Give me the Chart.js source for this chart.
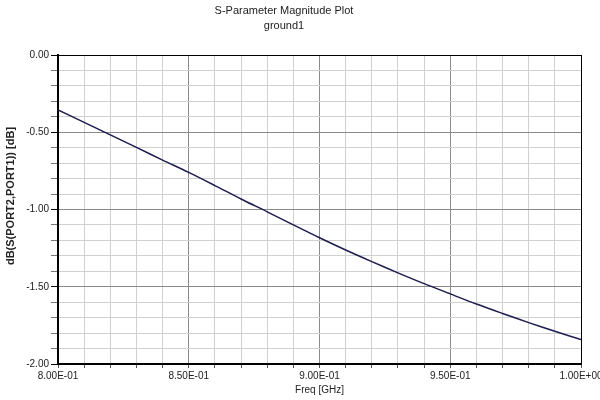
<!DOCTYPE html>
<html lang="en">
<head>
  <meta charset="UTF-8">
  <title>S-Parameter Magnitude Plot</title>
  <style>
    body {
      margin: 0;
      padding: 0;
      background-color: #fff;
    }

    .container {
      width: 600px;
      height: 400px;
    }
  </style>
</head>
<body>
  <div class="container">
    <canvas id="myChart" width="600" height="400"></canvas>
  </div>

  <script src="https://cdn.jsdelivr.net/npm/chart.js@4/dist/chart.umd.min.js"></script>
  <script>
    // frequency points in GHz and the S21 magnitude
    var freqs = [0.80, 0.81, 0.82, 0.83, 0.84, 0.85, 0.86, 0.87, 0.88, 0.89, 0.90,
                 0.91, 0.92, 0.93, 0.94, 0.95, 0.96, 0.97, 0.98, 0.99, 1.00];
    var s21dB = [-0.356, -0.436, -0.517, -0.598, -0.680, -0.760, -0.845, -0.932, -1.015, -1.100, -1.183,
                 -1.262, -1.337, -1.410, -1.480, -1.546, -1.612, -1.673, -1.732, -1.788, -1.842];

    var xTickLabels = ['8.00E-01', '8.50E-01', '9.00E-01', '9.50E-01', '1.00E+00'];
    var yTickLabels = ['-2.00', '-1.50', '-1.00', '-0.50', '0.00'];

    var titleLines = ['S-Parameter Magnitude Plot', 'ground1'];
    var yAxisTitle = 'dB(S(PORT2,PORT1)) [dB]';
    var xAxisTitle = 'Freq [GHz]';

    function gridColor(ctx) {
      if (ctx.index === 20) return '#000000';
      if (ctx.index % 5 === 0) return '#8a8a8a';
      return '#d0d0d0';
    }

    // titles are not centred on the plot in the original, so draw them by hand
    var titlePlugin = {
      id: 'plotTitles',
      afterDraw: function(chart) {
        var c = chart.ctx;
        c.save();
        c.fillStyle = '#222';
        c.textAlign = 'center';
        c.textBaseline = 'middle';
        c.font = '11px "Liberation Sans", Arial, sans-serif';
        c.fillText(titleLines[0], 284, 11);
        c.fillText(titleLines[1], 284, 26);

        c.translate(11, 196);
        c.rotate(-Math.PI / 2);
        c.font = 'bold 11px "Liberation Sans", Arial, sans-serif';
        c.fillText(yAxisTitle, 0, 0);
        c.restore();
      }
    };

    var ctx = document.getElementById('myChart').getContext('2d');
    var myChart = new Chart(ctx, {
      type: 'line',
      data: {
        datasets: [{
          label: 'S21',
          data: freqs.map(function(f, i) { return { x: f, y: s21dB[i] }; }),
          borderColor: '#1c1c4e',
          borderWidth: 1.5,
          pointRadius: 0,
          fill: false,
          tension: 0.3
        }]
      },
      options: {
        responsive: false,
        animation: false,
        layout: {
          padding: { top: 55, right: 19, left: 0, bottom: 0 }
        },
        plugins: {
          legend: { display: false },
          tooltip: { enabled: false }
        },
        scales: {
          x: {
            type: 'linear',
            min: 0.8,
            max: 1.0,
            afterFit: function(scale) {
              scale.height = 36;
              // let the end labels run off the edge like the original
              scale.paddingLeft = 0;
              scale.paddingRight = 0;
            },
            ticks: {
              stepSize: 0.01,
              autoSkip: false,
              maxRotation: 0,
              padding: 2,
              color: '#222',
              font: { family: '"Liberation Sans", Arial, sans-serif', size: 10 },
              callback: function(value, index) {
                return index % 5 === 0 ? xTickLabels[index / 5] : '';
              }
            },
            grid: {
              color: gridColor,
              tickColor: '#555',
              tickLength: 4
            },
            border: { color: '#000', width: 2 },
            title: {
              display: true,
              text: xAxisTitle,
              color: '#222',
              font: { family: '"Liberation Sans", Arial, sans-serif', size: 10 },
              padding: { top: 0, bottom: 4 }
            }
          },
          y: {
            min: -2,
            max: 0,
            afterFit: function(scale) { scale.width = 58; },
            ticks: {
              stepSize: 0.1,
              autoSkip: false,
              padding: 2,
              color: '#222',
              font: { family: '"Liberation Sans", Arial, sans-serif', size: 10 },
              callback: function(value, index) {
                return index % 5 === 0 ? yTickLabels[index / 5] : '';
              }
            },
            grid: {
              color: gridColor,
              tickColor: function(c) { return c.index % 5 === 0 ? '#000' : '#777'; },
              tickLength: 7
            },
            border: { color: '#000', width: 2 }
          }
        }
      },
      plugins: [titlePlugin]
    });
  </script>
</body>
</html>
